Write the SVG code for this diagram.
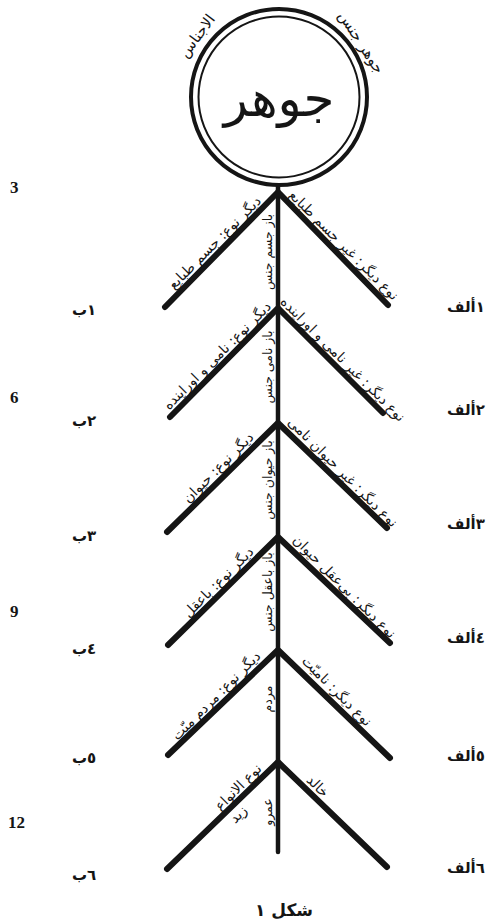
<svg xmlns="http://www.w3.org/2000/svg" width="487" height="923" viewBox="0 0 487 923">
<style>
.br{stroke:#151515;stroke-width:6;stroke-linecap:round;fill:none}
.tr{stroke:#151515;stroke-width:4.5;stroke-linecap:round;fill:none}
.ar{font-family:"DejaVu Sans",sans-serif;fill:#151515;text-anchor:middle}
.bt{font-size:14px}
.st{font-size:12.5px}
.lb{font-size:15px;font-weight:bold}
.num{font-family:"Liberation Serif",serif;font-weight:bold;font-size:17px;fill:#151515}
</style>
<rect width="487" height="923" fill="#fff"/>
<g id="connectors">
<path class="tr" d="M278 186 V852"/>
<path class="br" d="M278 192 L165 307 M278 192 L388 305"/>
<path class="br" d="M278 308 L170 417 M278 308 L383 413"/>
<path class="br" d="M278 423 L167 532 M278 423 L387 528"/>
<path class="br" d="M278 537 L168 645 M278 537 L390 643"/>
<path class="br" d="M278 650 L168 755 M278 650 L390 758"/>
<path class="br" d="M278 762 L167 869 M278 762 L387 867"/>
</g>
<g id="node-root">
<circle cx="279" cy="97" r="88" fill="#fff" stroke="#151515" stroke-width="4"/>
<circle cx="279" cy="97" r="80.5" fill="none" stroke="#151515" stroke-width="2"/>
<text class="ar" x="279" y="116" font-size="50">جوهر</text>
<text class="ar" font-size="15" transform="translate(201 39) rotate(-53)">الاجناس</text>
<text class="ar" font-size="15" transform="translate(357 45) rotate(57)">جوهر جنس</text>
</g>
<g id="branch-texts-left">
<text class="ar bt" transform="translate(221.5 249.5) rotate(-45)" y="-5">دیگر نوع: جسم طبایع</text>
<text class="ar bt" transform="translate(224 362.5) rotate(-45)" y="-5">دیگر نوع: نامی و اوراینده</text>
<text class="ar bt" transform="translate(225 474.5) rotate(-45)" y="-5">دیگر نوع: حیوان</text>
<text class="ar bt" transform="translate(225 589) rotate(-45)" y="-5">دیگر نوع: باعقل</text>
<text class="ar bt" transform="translate(223 702.5) rotate(-45)" y="-5">دیگر نوع: مردم میّت</text>
<text class="ar bt" transform="translate(245 794) rotate(-45)" y="-5">نوع الانواع</text>
<text class="ar bt" transform="translate(231 807) rotate(-45)" y="15">زید</text>
</g>
<g id="branch-texts-right">
<text class="ar bt" transform="translate(337 252) rotate(45)" y="-5">نوع دیگر: غیر جسم طبایع</text>
<text class="ar bt" transform="translate(336 366) rotate(45)" y="-5">نوع دیگر: غیر نامی و اوراینده</text>
<text class="ar bt" transform="translate(336 479) rotate(45)" y="-5">نوع دیگر: غیر حیوان نامی</text>
<text class="ar bt" transform="translate(337.5 593.5) rotate(45)" y="-5">نوع دیگر: بی‌عقل حیوان</text>
<text class="ar bt" transform="translate(330 698) rotate(45)" y="-5">نوع دیگر: نامیّت</text>
<text class="ar bt" transform="translate(311 793) rotate(45)" y="-5">خالد</text>
</g>
<g id="trunk-texts">
<text class="ar st" transform="translate(278 252) rotate(-90)" y="-6">باز جسم جنس</text>
<text class="ar st" transform="translate(278 367) rotate(-90)" y="-6">باز نامی جنس</text>
<text class="ar st" transform="translate(278 480) rotate(-90)" y="-6">باز حیوان جنس</text>
<text class="ar st" transform="translate(278 592) rotate(-90)" y="-6">باز باعقل جنس</text>
<text class="ar st" transform="translate(278 699) rotate(-90)" y="-6">مردم</text>
<text class="ar st" transform="translate(278 812) rotate(-90)" y="-6">عمرو</text>
</g>
<g id="labels-left">
<text class="ar lb" x="84" y="315">١ب</text>
<text class="ar lb" x="84" y="426">٢ب</text>
<text class="ar lb" x="84" y="541">٣ب</text>
<text class="ar lb" x="84" y="654">٤ب</text>
<text class="ar lb" x="84" y="763">٥ب</text>
<text class="ar lb" x="84" y="880">٦ب</text>
</g>
<g id="labels-right">
<text class="ar lb" x="466" y="312">١ألف</text>
<text class="ar lb" x="466" y="415">٢ألف</text>
<text class="ar lb" x="466" y="529">٣ألف</text>
<text class="ar lb" x="466" y="643">٤ألف</text>
<text class="ar lb" x="466" y="761">٥ألف</text>
<text class="ar lb" x="466" y="873">٦ألف</text>
</g>
<g id="line-numbers">
<text class="num" x="10" y="193">3</text>
<text class="num" x="10" y="403">6</text>
<text class="num" x="10" y="617">9</text>
<text class="num" x="8" y="828">12</text>
</g>
<g id="caption">
<text class="ar" x="284" y="916" font-size="17" font-weight="bold">شکل ۱</text>
</g>
</svg>
